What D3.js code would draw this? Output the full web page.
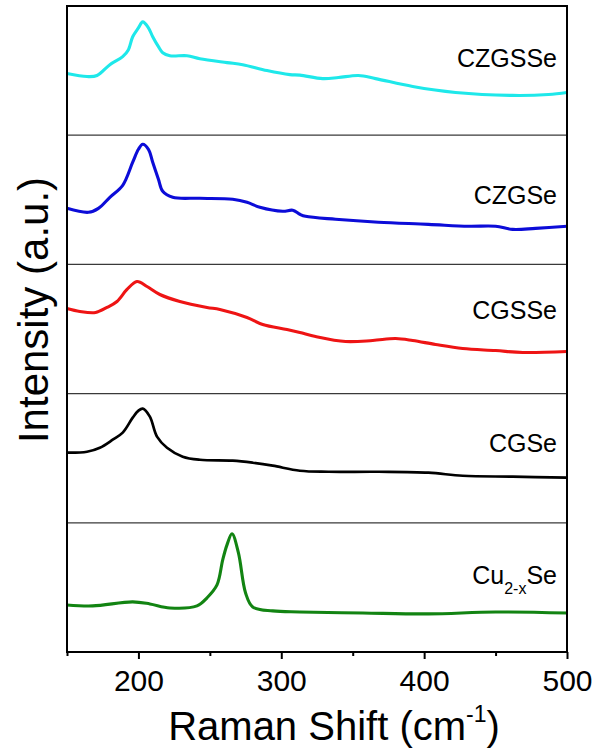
<!DOCTYPE html>
<html>
<head>
<meta charset="utf-8">
<script src="https://cdn.jsdelivr.net/npm/d3@7"></script>
<style>
  html, body { margin: 0; padding: 0; background: #fff; }
  svg { display: block; }
  text { font-family: "Liberation Sans", Arial, sans-serif; fill: #000; }
</style>
</head>
<body>
<svg id="chart" width="595" height="752"></svg>
<script>
// ---- data (Raman shift in cm^-1, intensity in a.u. within each stacked panel) ----
const sampleNames = ["CZGSSe", "CZGSe", "CGSSe", "CGSe", "Cu2-xSe"];
const sampleColors = ["#1ee8ea", "#0c0cd8", "#ee1414", "#000000", "#128412"];

const czgsseShift = [150,164,171,180,189,193,196,200,203,207,210,214,217,222,234,243,262,273,290,306,313,329,340,354,366,392,422,462,487,500];
const czgsseInt   = [47.7,45.4,46.2,54.6,60.8,66.2,76.2,83.1,87.7,83.1,76.2,68.5,63.8,61.5,61.5,59.2,56.2,54.6,50.0,46.9,46.5,43.8,44.6,46.2,43.8,37.7,33.1,30.8,31.5,33.1];

const czgseShift = [150,165,172,180,189,196,200,203,207,210,214,217,224,243,266,276,285,301,308,313,317,338,368,403,431,450,462,478,500];
const czgseInt   = [43.4,40.3,43.4,51.9,61.2,79.1,89.1,93.0,89.1,79.1,65.9,56.6,51.9,51.2,50.4,48.1,44.2,41.1,41.9,38.8,37.2,34.9,32.6,31.0,29.5,29.5,27.1,27.9,29.5];

const cgsseShift = [150,159,170,178,185,192,199,206,215,229,248,257,276,287,304,313,324,345,364,380,392,408,427,450,469,500];
const cgsseInt   = [65.9,63.6,62.8,66.7,71.3,80.6,86.8,82.9,76.7,71.3,66.7,65.1,58.9,53.5,49.6,47.3,44.2,40.3,41.1,42.6,41.1,38.0,34.9,33.3,31.8,32.6];

const cgseShift = [150,164,173,182,189,196,200,203,208,213,220,231,243,266,280,294,313,333,368,403,427,462,500];
const cgseInt   = [54.3,55.0,58.1,64.3,69.8,81.4,86.8,88.4,82.2,66.7,58.1,51.2,48.8,48.1,46.5,44.2,40.3,39.5,39.5,38.8,36.4,35.7,34.9];

const cuseShift = [150,168,196,208,222,241,248,255,259,262,265.5,270,275,280,294,313,357,403,450,500];
const cuseInt   = [36.4,35.7,38.8,37.2,34.1,35.7,41.9,51.9,71.3,82.9,91.5,76.7,45.7,34.9,31.8,31.0,30.2,29.5,31.0,30.2];

const seriesShift = [czgsseShift, czgseShift, cgsseShift, cgseShift, cuseShift];
const seriesInt   = [czgsseInt, czgseInt, cgsseInt, cgseInt, cuseInt];

const majorTicks = [200, 300, 400, 500];
const minorTicks = [150, 250, 350, 450];
const xDomain = [150, 500];
const yDomain = [0, 100];

// ---- layout ----
const svg = d3.select("#chart");
const mLeft = 67, mRight = 567, mTop = 6, mBottom = 652;
const nPanels = sampleNames.length;
const ph = (mBottom - mTop) / nPanels;

const x = d3.scaleLinear().domain(xDomain).range([mLeft, mRight]);

const panelY = d3.range(nPanels).map(i =>
  d3.scaleLinear().domain(yDomain).range([mTop + (i + 1) * ph, mTop + i * ph]));

// separators
svg.append("g").selectAll("line")
  .data(d3.range(1, nPanels))
  .join("line")
  .attr("x1", mLeft).attr("x2", mRight)
  .attr("y1", i => mTop + i * ph).attr("y2", i => mTop + i * ph)
  .attr("stroke", "#3a3a3a").attr("stroke-width", 1.2);

// curves
seriesInt.forEach((vals, i) => {
  const pts = vals.map((v, k) => [seriesShift[i][k], v]);
  const line = d3.line()
    .x(d => x(d[0]))
    .y(d => panelY[i](d[1]))
    .curve(d3.curveCatmullRom.alpha(0.5));
  svg.append("path")
    .datum(pts)
    .attr("d", line)
    .attr("fill", "none")
    .attr("stroke", sampleColors[i])
    .attr("stroke-width", i === 3 ? 2.7 : 3.1)
    .attr("stroke-linejoin", "round");
});

// frame
svg.append("rect")
  .attr("x", mLeft).attr("y", mTop)
  .attr("width", mRight - mLeft).attr("height", mBottom - mTop)
  .attr("fill", "none").attr("stroke", "#000").attr("stroke-width", 2);

// axes
const minorAxis = svg.append("g").attr("transform", `translate(0,${mBottom})`)
  .call(d3.axisBottom(x).tickValues(minorTicks).tickSize(4).tickFormat(""));
const majorAxis = svg.append("g").attr("transform", `translate(0,${mBottom})`)
  .call(d3.axisBottom(x).tickValues(majorTicks).tickSize(7).tickFormat(d3.format("d")));
[minorAxis, majorAxis].forEach(g => {
  g.select(".domain").remove();
  g.selectAll(".tick line").attr("stroke", "#000").attr("stroke-width", 2);
});
majorAxis.selectAll(".tick text")
  .attr("y", 39).attr("dy", null)
  .attr("font-size", 30)
  .attr("font-family", "Liberation Sans, Arial, sans-serif")
  .attr("fill", "#000");

// sample labels
const labelX = 557;
const labelBase = [67, 204, 319, 452, 584];
sampleNames.forEach((name, i) => {
  const t = svg.append("text")
    .attr("x", labelX).attr("y", labelBase[i])
    .attr("text-anchor", "end")
    .attr("font-size", 25);
  if (name === "Cu2-xSe") {
    t.append("tspan").text("Cu");
    t.append("tspan").attr("font-size", 16).attr("dy", 10).text("2-x");
    t.append("tspan").attr("dy", -10).text("Se");
  } else {
    t.text(name);
  }
});

// axis titles
const xt = svg.append("text")
  .attr("x", 334).attr("y", 740)
  .attr("text-anchor", "middle")
  .attr("font-size", 40);
xt.append("tspan").text("Raman Shift (cm");
xt.append("tspan").attr("font-size", 23).attr("dy", -18).text("-1");
xt.append("tspan").attr("dy", 18).text(")");

svg.append("text")
  .attr("transform", "translate(48,310) rotate(-90)")
  .attr("text-anchor", "middle")
  .attr("font-size", 42)
  .text("Intensity (a.u.)");
</script>
</body>
</html>
